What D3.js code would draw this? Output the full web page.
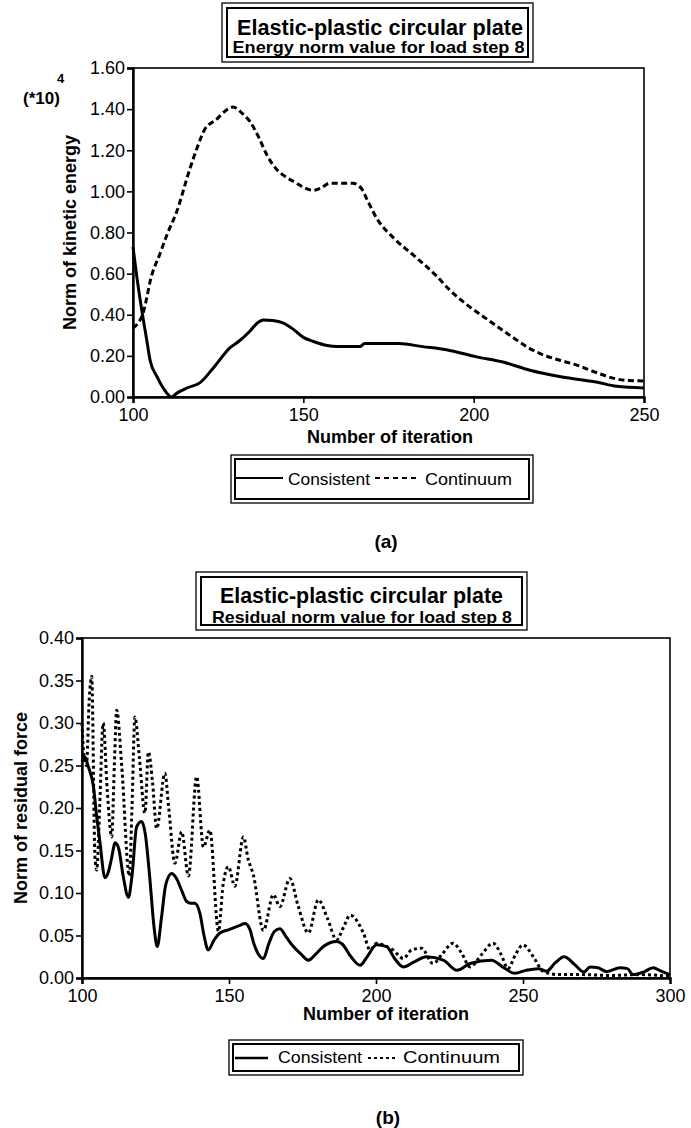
<!DOCTYPE html>
<html><head><meta charset="utf-8">
<script src="https://cdn.jsdelivr.net/npm/d3@7"></script>
<style>body{margin:0;background:#fff}svg{display:block}text{font-family:"Liberation Sans",Arial,sans-serif;fill:#000}</style>
</head><body>
<script>
// ---------- DATA ----------
const titleA = ["Elastic-plastic circular plate", "Energy norm value for load step 8"];
const titleB = ["Elastic-plastic circular plate", "Residual norm value for load step 8"];
const seriesNames = ["Consistent", "Continuum"];
const xTitle = "Number of iteration";
const yTitleA = "Norm of kinetic energy";
const yTitleB = "Norm of residual force";

const ticksXA = [100, 150, 200, 250];
const ticksYA = [0, 0.2, 0.4, 0.6, 0.8, 1.0, 1.2, 1.4, 1.6];
const ticksXB = [100, 150, 200, 250, 300];
const ticksYB = [0, 0.05, 0.1, 0.15, 0.2, 0.25, 0.3, 0.35, 0.4];

// (a) kinetic energy (*10^4)
const iterA_cons = [100,101,102.5,104,105,107,109,111.3,113,116,119.7,124,128.5,131,134.3,136.5,138.2,141,144,147,150,153,157,160,164,166.6,168,178,185,192,200.9,208.6,216.5,226,236,242,250];
const valA_cons  = [0.73,0.6,0.43,0.28,0.18,0.10,0.04,0.0,0.02,0.045,0.07,0.15,0.24,0.27,0.32,0.36,0.375,0.372,0.36,0.33,0.29,0.27,0.25,0.245,0.245,0.245,0.26,0.26,0.245,0.23,0.195,0.17,0.13,0.097,0.073,0.052,0.044];
const iterA_cont = [100,101.5,103,104,105,108,110,112.8,116.7,119,121,124.5,127,129.4,132,134.3,137,139.2,142,144,148,150,152.9,155,157.8,164.6,166,167,169,171.5,176.4,182.3,189,193,197.9,203.8,211.5,216,220.4,225,230.3,235,240.9,245,250];
const valA_cont  = [0.335,0.36,0.41,0.48,0.56,0.70,0.79,0.90,1.11,1.22,1.30,1.35,1.39,1.41,1.38,1.34,1.26,1.18,1.11,1.08,1.04,1.02,1.005,1.015,1.04,1.04,1.03,1.015,0.95,0.87,0.775,0.69,0.59,0.52,0.45,0.38,0.29,0.24,0.205,0.18,0.155,0.125,0.092,0.08,0.078];

// (b) residual force
const iterB_cons = [100,101,102,103.9,105,106.1,107.8,109,110,111.3,112.5,114,115.8,117,118.6,120.3,121.5,123,124.5,125.6,127,128.5,130.5,132,133.9,135.6,137,138.4,140.1,141.5,142.9,145,146.9,150,153.7,155.4,157,158.5,160,161.7,163.5,165.5,167.3,169.5,171.9,174.5,177,179.5,182.1,186.6,188.5,191.5,194.6,197,200.2,203.6,206.5,209.3,213,217.2,222.9,227.5,232,239.3,243.5,247.2,251,255.2,258,261,264,267.5,270.7,272.8,275.5,278.5,283,285.5,287.4,291,294.2,297,300];
const valB_cons  = [0.255,0.26,0.25,0.225,0.19,0.16,0.118,0.125,0.14,0.159,0.152,0.12,0.095,0.12,0.178,0.184,0.17,0.12,0.06,0.037,0.07,0.11,0.123,0.118,0.103,0.09,0.088,0.088,0.076,0.05,0.033,0.045,0.053,0.057,0.062,0.064,0.058,0.04,0.028,0.023,0.04,0.055,0.058,0.048,0.037,0.028,0.021,0.028,0.037,0.043,0.04,0.025,0.015,0.025,0.039,0.037,0.022,0.013,0.019,0.025,0.021,0.009,0.017,0.021,0.012,0.0055,0.009,0.011,0.008,0.018,0.025,0.016,0.007,0.013,0.012,0.0075,0.012,0.011,0.004,0.007,0.012,0.008,0.004];
const iterB_cont = [100,100.7,101.5,102.5,103.3,104.4,105,106,107.2,108.6,110.1,111,111.8,113.5,116.1,117,118,119.5,121.4,122.6,124,125.4,128.2,129.5,131.6,133.9,136.2,139,141.3,143.5,146.4,148,149.8,152,154.9,156.5,158.3,161.7,165.1,167.3,170.7,173.5,177,180.4,183.5,186.6,189,191.2,195.7,198,200.2,203,205.8,209.3,212.1,215.5,219.4,222.5,226.2,229,232,236,239.8,242.5,244.9,247.5,250,253.5,256.8,262,270,280,290,300];
const valB_cont  = [0.30,0.26,0.25,0.33,0.355,0.143,0.127,0.2,0.30,0.22,0.166,0.25,0.315,0.25,0.12,0.2,0.307,0.26,0.194,0.266,0.23,0.176,0.241,0.2,0.135,0.172,0.12,0.237,0.154,0.174,0.055,0.11,0.131,0.108,0.166,0.14,0.121,0.056,0.098,0.084,0.117,0.085,0.053,0.092,0.07,0.045,0.06,0.074,0.053,0.033,0.041,0.038,0.033,0.023,0.033,0.035,0.017,0.028,0.041,0.03,0.013,0.028,0.041,0.028,0.011,0.028,0.039,0.025,0.008,0.004,0.004,0.003,0.004,0.002];

// ---------- DRAW ----------
const W = 691, H = 1128;
const svg = d3.select("body").append("svg").attr("width", W).attr("height", H);
const FONT = "'Liberation Sans', Arial, sans-serif";

function fitText(g, str, x, y, size, weight, width, anchor) {
  const t = g.append("text").attr("x", x).attr("y", y).attr("font-size", size)
    .attr("font-weight", weight).attr("text-anchor", anchor || "start").text(str);
  if (width) t.attr("textLength", width).attr("lengthAdjust", "spacingAndGlyphs");
  return t;
}
function doubleBox(x0, y0, x1, y1, gap) {
  svg.append("rect").attr("x", x0).attr("y", y0).attr("width", x1 - x0).attr("height", y1 - y0)
    .attr("fill", "#fff").attr("stroke", "#000").attr("stroke-width", 1.3);
  svg.append("rect").attr("x", x0 + gap).attr("y", y0 + gap).attr("width", x1 - x0 - 2 * gap).attr("height", y1 - y0 - 2 * gap)
    .attr("fill", "none").attr("stroke", "#000").attr("stroke-width", 2);
}

function panel(cfg) {
  const x = d3.scaleLinear().domain(cfg.xd).range([cfg.l, cfg.r]);
  const y = d3.scaleLinear().domain(cfg.yd).range([cfg.b, cfg.t]);
  const g = svg.append("g");
  g.append("rect").attr("x", cfg.l).attr("y", cfg.t).attr("width", cfg.r - cfg.l).attr("height", cfg.b - cfg.t)
    .attr("fill", "none").attr("stroke", "#000").attr("stroke-width", 1.6);
  const line = d3.line().x(d => x(d[0])).y(d => y(d[1])).curve(cfg.curve);
  const dC = cfg.ic.map((v, i) => [v, cfg.vc[i]]);
  const dN = cfg.in.map((v, i) => [v, cfg.vn[i]]);
  g.append("path").datum(dN).attr("d", line).attr("fill", "none").attr("stroke", "#000")
    .attr("stroke-width", 3).attr("stroke-dasharray", cfg.dash);
  g.append("path").datum(dC).attr("d", line).attr("fill", "none").attr("stroke", "#000")
    .attr("stroke-width", 3);
  const ax = g.append("g").attr("transform", `translate(0,${cfg.b})`)
    .call(d3.axisBottom(x).tickValues(cfg.tx).tickSize(6).tickPadding(4).tickFormat(d3.format("d")));
  const ay = g.append("g").attr("transform", `translate(${cfg.l},0)`)
    .call(d3.axisLeft(y).tickValues(cfg.ty).tickSize(6).tickPadding(2).tickFormat(d3.format(".2f")));
  [ax, ay].forEach(a => {
    a.select(".domain").attr("stroke-width", 2.4);
    a.selectAll(".tick line").attr("stroke-width", 1.6);
    a.selectAll("text").attr("font-size", 18).attr("font-family", FONT).attr("fill", "#000");
  });
  ax.selectAll("text").attr("dy", "0.78em");
  g.append("text").attr("x", cfg.xtx).attr("y", cfg.xty).attr("text-anchor", "middle")
    .attr("font-size", 18).attr("font-weight", "bold").text(xTitle);
  g.append("text").attr("transform", `translate(${cfg.ytx},${(cfg.t + cfg.b) / 2}) rotate(-90)`)
    .attr("text-anchor", "middle").attr("font-size", 18).attr("font-weight", "bold").text(cfg.ytitle);
  return {x, y};
}

// ---- panel (a)
doubleBox(222, 3, 533, 62, 5);
fitText(svg, titleA[0], 380, 35, 22, "bold", 286, "middle");
fitText(svg, titleA[1], 378.5, 53, 17, "bold", 292, "middle");

panel({xd: [100, 250], yd: [0, 1.6], l: 133, r: 644, t: 68, b: 397,
  ic: iterA_cons, vc: valA_cons, in: iterA_cont, vn: valA_cont,
  tx: ticksXA, ty: ticksYA, dash: "6,3.5", curve: d3.curveMonotoneX,
  xtx: 390, xty: 443, ytx: 76, ytitle: yTitleA});

svg.append("text").attr("x", 23).attr("y", 104).attr("font-size", 17).attr("font-weight", "bold").text("(*10)");
svg.append("text").attr("x", 57).attr("y", 83).attr("font-size", 13).attr("font-weight", "bold").text("4");

// legend (a)
doubleBox(231, 455, 533, 503, 4);
svg.append("line").attr("x1", 236).attr("x2", 283).attr("y1", 478).attr("y2", 478).attr("stroke", "#000").attr("stroke-width", 2);
fitText(svg, seriesNames[0], 288, 485, 17, "normal", 82);
svg.append("line").attr("x1", 375).attr("x2", 419).attr("y1", 478).attr("y2", 478).attr("stroke", "#000").attr("stroke-width", 2).attr("stroke-dasharray", "5,4");
fitText(svg, seriesNames[1], 425, 485, 17, "normal", 87);

svg.append("text").attr("x", 386).attr("y", 548).attr("text-anchor", "middle").attr("font-size", 19).attr("font-weight", "bold").text("(a)");

// ---- panel (b)
doubleBox(196, 572, 527, 630, 5);
fitText(svg, titleB[0], 361.5, 603, 22, "bold", 283, "middle");
fitText(svg, titleB[1], 362, 623, 17, "bold", 300, "middle");

panel({xd: [100, 300], yd: [0, 0.4], l: 82, r: 670, t: 638, b: 978,
  ic: iterB_cons, vc: valB_cons, in: iterB_cont, vn: valB_cont,
  tx: ticksXB, ty: ticksYB, dash: "3,3", curve: d3.curveMonotoneX,
  xtx: 386, xty: 1020, ytx: 27, ytitle: yTitleB});

// legend (b)
doubleBox(229, 1040, 523, 1075, 4);
svg.append("line").attr("x1", 235).attr("x2", 268).attr("y1", 1058).attr("y2", 1058).attr("stroke", "#000").attr("stroke-width", 2.5);
fitText(svg, seriesNames[0], 278, 1063, 17, "normal", 84);
svg.append("line").attr("x1", 368).attr("x2", 397).attr("y1", 1058).attr("y2", 1058).attr("stroke", "#000").attr("stroke-width", 2).attr("stroke-dasharray", "3,3");
fitText(svg, seriesNames[1], 403, 1063, 17, "normal", 97);

svg.append("text").attr("x", 388).attr("y", 1124).attr("text-anchor", "middle").attr("font-size", 19).attr("font-weight", "bold").text("(b)");
</script>
</body></html>
